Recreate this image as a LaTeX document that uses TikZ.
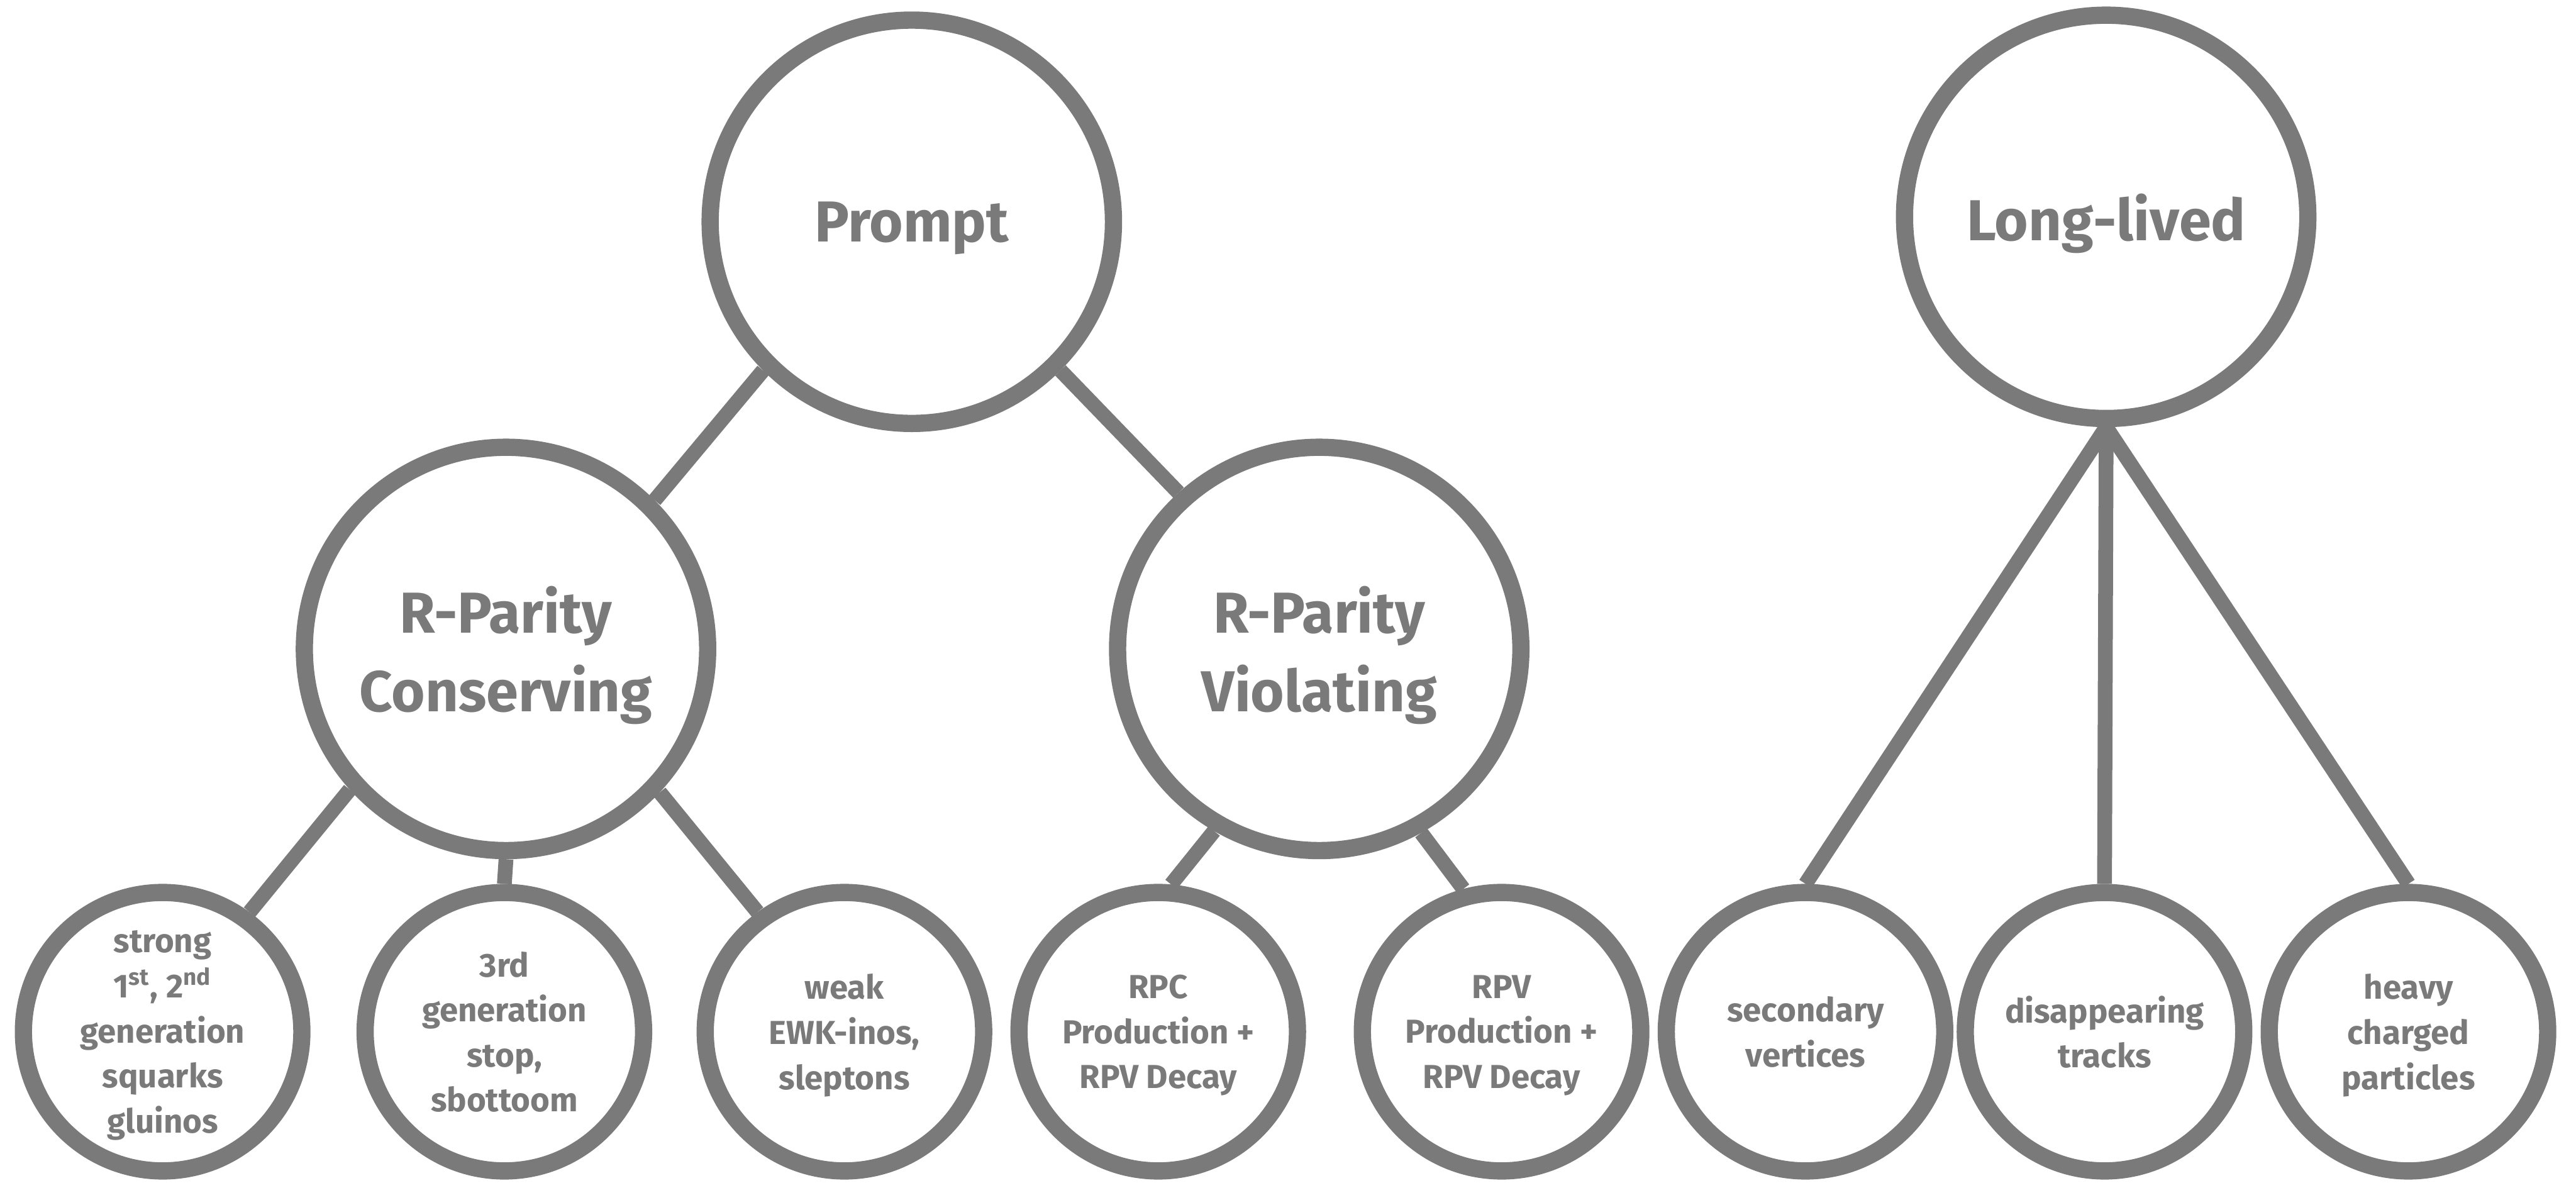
\documentclass[tikz,border=0pt]{standalone}
\usepackage{fontspec}
\setmainfont{Fira Sans}
\usepackage{xcolor}
\usepackage{tikz}
\definecolor{ink}{HTML}{7A7A7A}
\tikzset{
  bigCircle/.style={circle, draw=ink, fill=white, line width=0.21cm, minimum size=4.91cm,
    inner sep=0pt, text depth=0pt, align=center, text=ink, font=\fontsize{20}{27.4}\selectfont\bfseries},
  smallCircle/.style={circle, draw=ink, fill=white, line width=0.21cm, minimum size=3.39cm,
    inner sep=0pt, text depth=0pt, align=center, text=ink, font=\fontsize{11.5}{15.6}\selectfont\bfseries},
  branch/.style={draw=ink, line width=0.18cm}
}

\begin{document}
\begin{tikzpicture}
  \useasboundingbox (0,0) rectangle (31.36,14.46);

  % top level
  \node[bigCircle] (prompt) at (11.10,11.76) {Prompt};
  \node[bigCircle] (longlived) at (25.64,11.82) {Long-lived};

  % R-parity split
  \node[bigCircle] (rpc) at (6.16,6.56) {R-Parity\\Conserving};
  \node[bigCircle] (rpv) at (16.06,6.56) {R-Parity\\Violating};

  % leaves
  \node[smallCircle] (strong) at (1.98,1.90) {strong\\1\textsuperscript{st}, 2\textsuperscript{nd}\\generation\\squarks\\gluinos};
  \node[smallCircle] (third) at (6.14,1.90) {3rd\\generation\\stop,\\sbottoom};
  \node[smallCircle] (weak) at (10.28,1.90) {weak\\EWK-inos,\\sleptons};
  \node[smallCircle] (rpcprod) at (14.10,1.90) {RPC\\Production +\\RPV Decay};
  \node[smallCircle] (rpvprod) at (18.28,1.90) {RPV\\Production +\\RPV Decay};
  \node[smallCircle] (secondary) at (21.98,1.90) {secondary\\vertices};
  \node[smallCircle] (disappear) at (25.62,1.90) {disappearing\\tracks};
  \node[smallCircle] (heavy) at (29.32,1.90) {heavy\\charged\\particles};

  \draw[branch] (prompt.225) -- (rpc.45);
  \draw[branch] (prompt.315) -- (rpv.132);
  \draw[branch] (rpc.222) -- (strong.54);
  \draw[branch] (rpc.south) -- (third.north);
  \draw[branch] (rpc.317) -- (weak.126);
  \draw[branch] (rpv.240) -- (rpcprod.85);
  \draw[branch] (rpv.299) -- (rpvprod.105);
  \draw[branch] (longlived.south) -- (secondary.north);
  \draw[branch] (longlived.south) -- (disappear.north);
  \draw[branch] (longlived.south) -- (heavy.north);
\end{tikzpicture}
\end{document}
